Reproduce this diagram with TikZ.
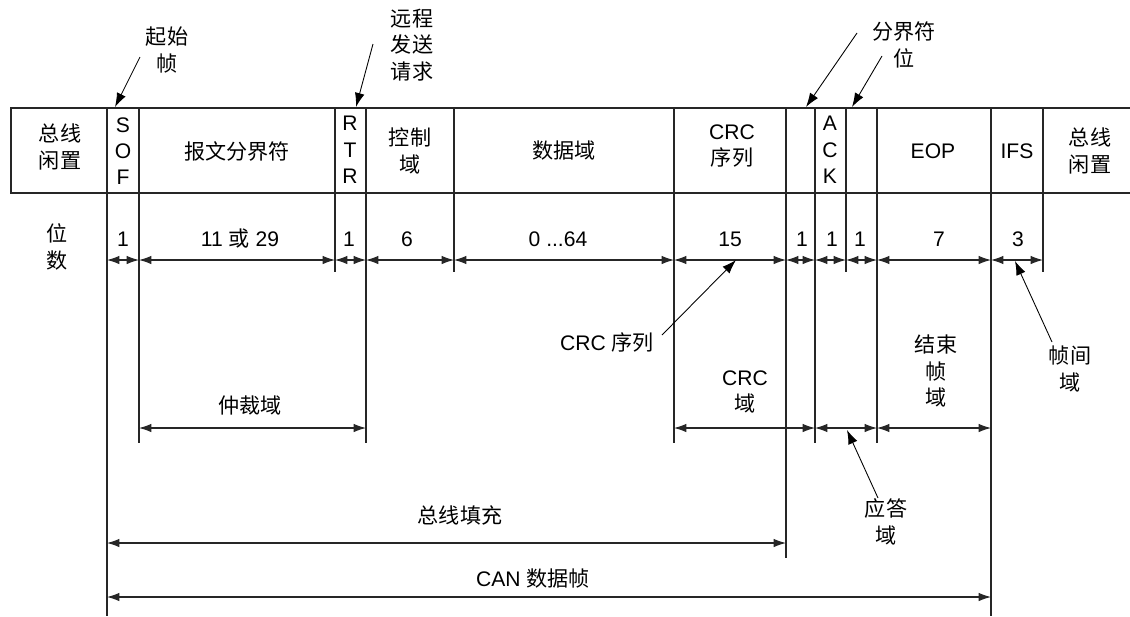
\documentclass[tikz,border=0pt]{standalone}
\usepackage{fontspec}
\setmainfont{Liberation Sans}
\newfontfamily\cjk{Noto Sans CJK SC}
\usetikzlibrary{arrows.meta}

\tikzset{
  lbl/.style={font=\fontsize{12}{15}\selectfont, inner sep=0pt, align=center},
  frame/.style={line width=0.6pt, black!85},
  dim/.style={line width=0.6pt, black!85, {Latex[length=7pt,width=4.8pt]}-{Latex[length=7pt,width=4.8pt]}},
  pointer/.style={line width=0.5pt, -{Latex[length=8pt,width=5.5pt]}},
}

\begin{document}
\begin{tikzpicture}[x=0.02cm,y=-0.02cm]
  \useasboundingbox (0,0) rectangle (1130,616);
  % field boxes
  \draw[frame] (1130,108) -- (11,108) -- (11,193) -- (1130,193);
  \foreach \x/\y [count=\i] in {107/616,139/443,335/272,366/443,454/272,674/443,786/558,815/443,846/272,877/443,991/616,1043/272}{
    \coordinate (b\i) at (\x,108);
    \coordinate (e\i) at (\x,\y);
    \coordinate (d\i) at (\x,260);
    \coordinate (w\i) at (\x,428);
    \coordinate (z\i) at (\x,543);
    \coordinate (c\i) at (\x,597);
    \draw[frame] (b\i) -- (e\i);
  }
  % field names
  \node[lbl] (idleA) at (60,147) {\cjk 总线\\\cjk 闲置};
  \node[lbl] (sof) at (123,151) {S\\O\\F};
  \node[lbl] (ident) at (237,151) {\cjk 报文分界符};
  \node[lbl] (rtr) at (350,150) {R\\T\\R};
  \node[lbl] (ctrl) at (410,151) {\cjk 控制\\\cjk 域};
  \node[lbl] (data) at (564,151) {\cjk 数据域};
  \node[lbl] (crc) at (732,146) {CRC\\\cjk 序列};
  \node[lbl] (ack) at (830,150) {A\\C\\K};
  \node[lbl] (eop) at (933,151) {EOP};
  \node[lbl] (ifs) at (1017,151) {IFS};
  \node[lbl] (idleB) at (1090,151) {\cjk 总线\\\cjk 闲置};
  % bit counts
  \node[lbl] (bits) at (57,247) {\cjk 位\\\cjk 数};
  \foreach \t/\x in {1/123,11 {\cjk 或} 29/240,1/349,6/407,15/730,1/802,1/832,1/860,7/939,3/1018}
    \node[lbl] at (\x,239) {\t};
  \node[lbl] (dlen) at (558,239) {0 ...64};
  \foreach \i [evaluate=\i as \j using int(\i+1)] in {1,...,11}
    \draw[dim] (d\i) -- (d\j);
  % grouped fields
  \draw[dim] (w2) -- (w4);
  \node[lbl] (arb) at (250,405) {\cjk 仲裁域};
  \draw[dim] (w6) -- (w8);
  \node[lbl] (crcf) at (745,392) {CRC\\\cjk 域};
  \draw[dim] (w8) -- (w10);
  \draw[dim] (w10) -- (w11);
  \node[lbl] (eof) at (936,371) {\cjk 结束\\\cjk 帧\\\cjk 域};
  \draw[dim] (z1) -- (z7);
  \node[lbl] (stuff) at (460,515) {\cjk 总线填充};
  \draw[dim] (c1) -- (c11);
  \node[lbl] (frm) at (533,579) {CAN {\cjk 数据帧}};
  % pointer notes
  \node[lbl] (sofnote) at (167,50) {\cjk 起始\\\cjk 帧};
  \coordinate (sofT) at (140,57);
  \coordinate (sofH) at (115,107);
  \draw[pointer] (sofT) -- (sofH);
  \node[lbl] (rtrnote) at (412,45) {\cjk 远程\\\cjk 发送\\\cjk 请求};
  \coordinate (rtrT) at (373,44);
  \coordinate (rtrH) at (356,107);
  \draw[pointer] (rtrT) -- (rtrH);
  \node[lbl] (delnote) at (904,45) {\cjk 分界符\\\cjk 位};
  \coordinate (delT1) at (857,33);
  \coordinate (delH1) at (806,107);
  \coordinate (delT2) at (882,56);
  \coordinate (delH2) at (852,107);
  \draw[pointer] (delT1) -- (delH1);
  \draw[pointer] (delT2) -- (delH2);
  \node[lbl] (crcnote) at (607,342) {CRC {\cjk 序列}};
  \coordinate (crcT) at (662,335);
  \coordinate (crcH) at (736,260);
  \draw[pointer] (crcT) -- (crcH);
  \node[lbl] (ifsnote) at (1070,369) {\cjk 帧间\\\cjk 域};
  \coordinate (ifsT) at (1052,342);
  \coordinate (ifsH) at (1015,261);
  \draw[pointer] (ifsT) -- (ifsH);
  \node[lbl] (acknote) at (886,522) {\cjk 应答\\\cjk 域};
  \coordinate (ackT) at (878,498);
  \coordinate (ackH) at (847,430);
  \draw[pointer] (ackT) -- (ackH);
\end{tikzpicture}
\end{document}
